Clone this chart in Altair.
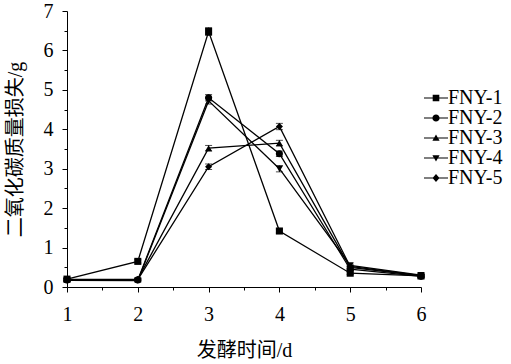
import altair as alt
import pandas as pd

days = [1, 2, 3, 4, 5, 6]
series_names = ["FNY-1", "FNY-2", "FNY-3", "FNY-4", "FNY-5"]
fny1 = [0.20, 0.65, 6.48, 1.42, 0.35, 0.28]
fny2 = [0.18, 0.18, 4.80, 3.38, 0.45, 0.27]
fny3 = [0.19, 0.20, 3.52, 3.65, 0.50, 0.28]
fny4 = [0.17, 0.16, 4.72, 3.00, 0.55, 0.30]
fny5 = [0.18, 0.19, 3.05, 4.07, 0.52, 0.29]
err1 = [0.03, 0.04, 0.10, 0.05, 0.03, 0.03]
err2 = [0.03, 0.03, 0.08, 0.07, 0.03, 0.03]
err3 = [0.03, 0.03, 0.07, 0.07, 0.03, 0.03]
err4 = [0.03, 0.03, 0.08, 0.08, 0.03, 0.03]
err5 = [0.03, 0.03, 0.07, 0.08, 0.03, 0.03]
x_major = [1, 2, 3, 4, 5, 6]
x_minor = [1.5, 2.5, 3.5, 4.5, 5.5]
y_major = [0, 1, 2, 3, 4, 5, 6, 7]
y_minor = [0.5, 1.5, 2.5, 3.5, 4.5, 5.5, 6.5]

values = [fny1, fny2, fny3, fny4, fny5]
errors = [err1, err2, err3, err4, err5]

rows = []
for name, vals, errs in zip(series_names, values, errors):
    for d, v, e in zip(days, vals, errs):
        rows.append({"day": d, "series": name, "value": v, "lo": v - e, "hi": v + e})
df = pd.DataFrame(rows)

marker_shapes = ["square", "circle", "triangle-up", "triangle-down", "diamond"]
# legend glyphs: a thin filled bar (the line) plus the marker, all filled
BAR = "M-2,-0.09H2V0.09H-2Z"
legend_shapes = [
    BAR + "M-0.55,-0.55H0.55V0.55H-0.55Z",
    BAR + "M0.6,0A0.6,0.6,0,1,1,-0.6,0A0.6,0.6,0,1,1,0.6,0Z",
    BAR + "M0,-0.6L0.6,0.45H-0.6Z",
    BAR + "M0,0.6L-0.6,-0.45H0.6Z",
    BAR + "M0,-0.65L0.58,0L0,0.65L-0.58,0Z",
]

SERIF = "Times New Roman, Liberation Serif, serif"
CJK = "Times New Roman, Liberation Serif, Noto Sans CJK SC"

x_scale = alt.Scale(domain=[1, 6], nice=False, zero=False)
y_scale = alt.Scale(domain=[0, 7], nice=False)

x_enc = alt.X(
    "day:Q",
    scale=x_scale,
    axis=alt.Axis(
        title="发酵时间/d",
        values=x_major,
        format="d",
        labelOverlap=False,
        tickSize=5,
        grid=False,
        labelFont=SERIF,
        labelFontSize=20,
        labelColor="black",
        labelPadding=12,
        titleFont=CJK,
        titleFontSize=20,
        titleFontWeight="normal",
        titleColor="black",
        titlePadding=16,
        domainColor="black",
        tickColor="black",
        labelFlush=False,
    ),
)
y_enc = alt.Y(
    "value:Q",
    scale=y_scale,
    axis=alt.Axis(
        title="二氧化碳质量损失/g",
        values=y_major,
        format="d",
        labelOverlap=False,
        tickSize=5,
        grid=False,
        labelFont=SERIF,
        labelFontSize=20,
        labelColor="black",
        labelPadding=9,
        titleFont=CJK,
        titleFontSize=20,
        titleFontWeight="normal",
        titleColor="black",
        titlePadding=18,
        domainColor="black",
        tickColor="black",
        labelFlush=False,
    ),
)

minor_axis_kw = dict(
    labels=False, domain=False, grid=False, title=None, tickSize=3, tickColor="black"
)

X0 = alt.X("day:Q", axis=None)

base = alt.Chart(df)

lines = base.mark_line(color="black", strokeWidth=1.3).encode(
    x=x_enc, y=y_enc, detail="series:N"
)
minor = base.mark_point(opacity=0).encode(
    x=alt.X("day:Q", scale=x_scale, axis=alt.Axis(values=x_minor, orient="bottom", **minor_axis_kw)),
    y=alt.Y("value:Q", scale=y_scale, axis=alt.Axis(values=y_minor, orient="left", **minor_axis_kw)),
)
err_rule = base.mark_rule(color="black", strokeWidth=1).encode(
    x=X0, y=alt.Y("lo:Q", axis=None), y2="hi:Q"
)
err_hi = base.mark_tick(color="black", orient="horizontal", size=7, thickness=1).encode(
    x=X0, y=alt.Y("hi:Q", axis=None)
)
err_lo = base.mark_tick(color="black", orient="horizontal", size=7, thickness=1).encode(
    x=X0, y=alt.Y("lo:Q", axis=None)
)
points = base.mark_point(filled=True, color="black", size=50, opacity=1).encode(
    x=X0,
    y=alt.Y("value:Q", axis=None),
    shape=alt.Shape(
        "series:N",
        scale=alt.Scale(domain=series_names, range=marker_shapes),
        legend=None,
    ),
)
legend_layer = base.mark_point(filled=True, color="black", opacity=0, size=144).encode(
    x=X0,
    y=alt.Y("value:Q", axis=None),
    shape=alt.Shape(
        "series:N",
        scale=alt.Scale(domain=series_names, range=legend_shapes),
        legend=alt.Legend(
            title=None,
            orient="none",
            legendX=359,
            legendY=77,
            labelFont=SERIF,
            labelFontSize=20,
            labelColor="black",
            labelOffset=2,
            symbolSize=144,
            symbolOpacity=1,
            symbolFillColor="black",
            symbolStrokeWidth=0,
            rowPadding=-2,
        ),
    ),
)

chart = (
    alt.layer(lines, minor, err_rule, err_hi, err_lo, points, legend_layer)
    .resolve_scale(shape="independent")
    .resolve_axis(x="independent", y="independent")
    .properties(
        width=354,
        height=276,
        autosize=alt.AutoSizeParams(type="none"),
        padding={"left": 67, "top": 11, "right": 90, "bottom": 77},
        background="white",
    )
    .configure_view(stroke=None)
)

chart.save("out.html", embed_options={"renderer": "svg", "actions": False})
